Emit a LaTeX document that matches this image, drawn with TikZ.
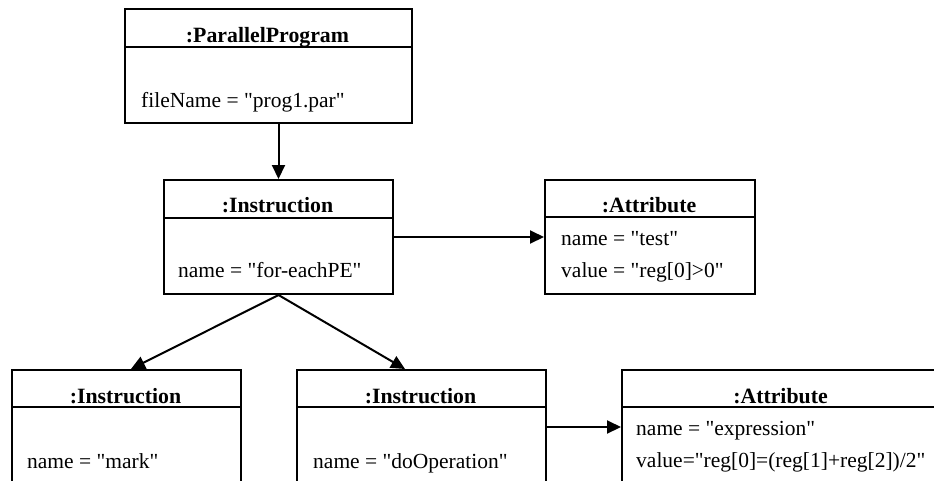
\documentclass[tikz,border=0pt]{standalone}
\usepackage{fontspec}
\setmainfont{Liberation Serif}[Ligatures=TeXOff]
\usetikzlibrary{arrows.meta}
\tikzset{
  umlbox/.style={draw, line width=2pt, rectangle, anchor=north west, inner sep=0pt},
  sepline/.style={line width=2pt},
  ttl/.style={anchor=base, inner sep=0pt, font=\fontsize{21.8}{26}\selectfont\bfseries},
  attr/.style={anchor=base west, inner sep=0pt, font=\fontsize{21.5}{26}\selectfont},
  link/.style={line width=2pt, -{Triangle[length=14pt,width=13pt]}}
}
\begin{document}
\begin{tikzpicture}[x=1pt,y=-1pt]
\useasboundingbox (0,0) rectangle (934,480);
\clip (0,0) rectangle (934,480);
% ParallelProgram
\node[umlbox, minimum width=287pt, minimum height=114pt] (pp) at (124,8) {};
\draw[sepline] (pp.west |- 0,47) -- (pp.east |- 0,47);
\node[ttl] (ppt) at (267.5,42) {:ParallelProgram};
\node[attr] (ppa) at (141,107) {fileName = "prog1.par"};
% Instruction for-eachPE
\node[umlbox, minimum width=229pt, minimum height=114pt] (i1) at (163,179) {};
\draw[sepline] (i1.west |- 0,218) -- (i1.east |- 0,218);
\node[ttl] (i1t) at (277.5,212) {:Instruction};
\node[attr] (i1a) at (178,277) {name = "for-eachPE"};
% Attribute test
\node[umlbox, minimum width=210pt, minimum height=114pt] (a1) at (544,179) {};
\draw[sepline] (a1.west |- 0,217) -- (a1.east |- 0,217);
\node[ttl] (a1t) at (649,212) {:Attribute};
\node[attr] (a1a) at (561,245) {name = "test"};
\node[attr] (a1b) at (561,277) {value = "reg[0]>0"};
% Instruction mark
\node[umlbox, minimum width=229pt, minimum height=140pt] (m) at (11,369) {};
\draw[sepline] (m.west |- 0,407) -- (m.east |- 0,407);
\node[ttl] (mt) at (125.5,403) {:Instruction};
\node[attr] (ma) at (27,468) {name = "mark"};
% Instruction doOperation
\node[umlbox, minimum width=249pt, minimum height=140pt] (d) at (296,369) {};
\draw[sepline] (d.west |- 0,407) -- (d.east |- 0,407);
\node[ttl] (dt) at (420.5,403) {:Instruction};
\node[attr] (da) at (313,468) {name = "doOperation"};
% Attribute expression
\node[umlbox, minimum width=320pt, minimum height=140pt] (a2) at (621,369) {};
\draw[sepline] (a2.west |- 0,407) -- (a2.east |- 0,407);
\node[ttl] (a2t) at (780.5,403) {:Attribute};
\node[attr] (a2a) at (636,435) {name = "expression"};
\node[attr] (a2b) at (636,467) {value="reg[0]=(reg[1]+reg[2])/2"};
% connectors
\coordinate (tm) at (131,369);
\coordinate (td) at (405,369);
\draw[link] (pp.south -| i1.north) -- (i1.north);
\draw[link] (i1.east |- 0,237) -- (a1.west |- 0,237);
\draw[link] (i1.south) -- (m.north -| tm);
\draw[link] (i1.south) -- (d.north -| td);
\draw[link] (d.east |- 0,427) -- (a2.west |- 0,427);
\end{tikzpicture}
\end{document}
